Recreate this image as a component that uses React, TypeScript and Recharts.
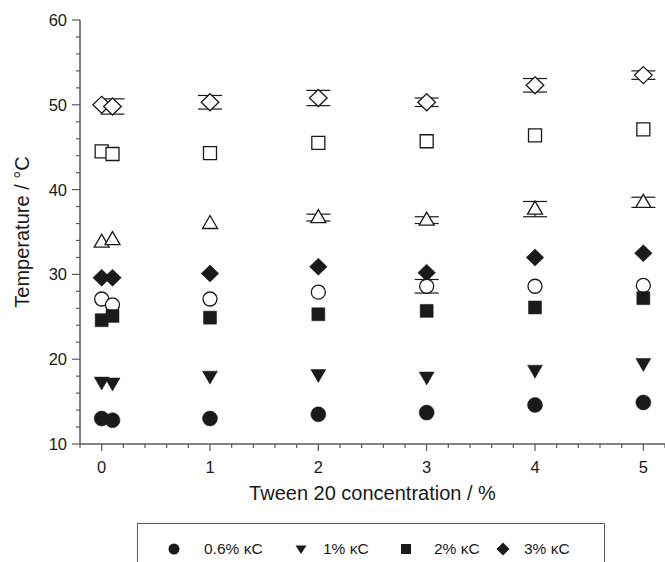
import { ErrorBar, Scatter, ScatterChart, XAxis, YAxis } from 'recharts'

const conc = [0, 0.1, 1, 2, 3, 4, 5]

// gelation (filled) and melting (open) temperatures, °C
const gel06 = [13.0, 12.8, 13.0, 13.5, 13.7, 14.6, 14.9]
const gel1 = [17.3, 17.2, 18.0, 18.2, 17.9, 18.7, 19.5]
const gel2 = [24.6, 25.1, 24.9, 25.3, 25.7, 26.1, 27.2]
const gel3 = [29.6, 29.6, 30.1, 30.9, 30.2, 32.0, 32.5]
const melt06 = [27.1, 26.4, 27.1, 27.9, 28.6, 28.6, 28.7]
const melt1 = [33.8, 34.1, 36.0, 36.7, 36.4, 37.7, 38.5]
const melt2 = [44.5, 44.2, 44.3, 45.5, 45.7, 46.4, 47.1]
const melt3 = [50.0, 49.8, 50.3, 50.8, 50.3, 52.3, 53.5]

const melt06Err = [null, null, null, null, 0.8, null, null]
const melt1Err = [null, null, null, 0.4, 0.4, 0.9, 0.6]
const melt3Err = [null, 0.9, 0.8, 0.9, 0.5, 0.8, 0.5]

const xTicks = [
  -0.2, 0, 0.2, 0.4, 0.6, 0.8, 1, 1.2, 1.4, 1.6, 1.8, 2, 2.2, 2.4, 2.6, 2.8, 3, 3.2, 3.4,
  3.6, 3.8, 4, 4.2, 4.4, 4.6, 4.8, 5, 5.2,
]
const yTicks = [10, 12, 14, 16, 18, 20, 22, 24, 26, 28, 30, 32, 34, 36, 38, 40, 42, 44, 46, 48, 50, 52, 54, 56, 58, 60]

const legendItems = [
  { kind: 'circle', label: '0.6% κC' },
  { kind: 'down', label: '1% κC' },
  { kind: 'square', label: '2% κC' },
  { kind: 'diamond', label: '3% κC' },
]

const FONT = '"Liberation Sans", Arial, sans-serif'
const AXIS = '#5a5a5a'
const INK = '#1a1a1a'

const rows = (ys: number[], errs?: (number | null)[]) =>
  ys.map((y, i) => ({ x: conc[i], y, err: errs ? errs[i] ?? undefined : undefined }))

function markPath(kind: string, cx: number, cy: number) {
  switch (kind) {
    case 'square':
      return `M${cx - 6.5},${cy - 6.5}h13v13h-13z`
    case 'diamond':
      return `M${cx},${cy - 8.5}L${cx + 8.8},${cy}L${cx},${cy + 8.5}L${cx - 8.8},${cy}z`
    case 'up':
      return `M${cx},${cy - 8}L${cx + 7.5},${cy + 5}L${cx - 7.5},${cy + 5}z`
    case 'down':
      return `M${cx - 7.5},${cy - 5}L${cx + 7.5},${cy - 5}L${cx},${cy + 8}z`
    default:
      return ''
  }
}

function Mark({ cx, cy, kind, open }: { cx: number; cy: number; kind: string; open?: boolean }) {
  const fill = open ? '#fff' : INK
  const sw = open ? 1.3 : 0.5
  if (kind === 'circle') {
    return <circle cx={cx} cy={cy} r={open ? 7 : 7.5} fill={fill} stroke={INK} strokeWidth={sw} />
  }
  return <path d={markPath(kind, cx, cy)} fill={fill} stroke={INK} strokeWidth={sw} strokeLinejoin="miter" />
}

const shapeOf = (kind: string, open?: boolean) => (p: any) => <Mark cx={p.cx} cy={p.cy} kind={kind} open={open} />

function YTick({ x, y, payload }: any) {
  const v = payload.value
  const major = v % 10 === 0
  return (
    <g>
      <line x1={x - (major ? 8 : 4)} x2={x} y1={y} y2={y} stroke={AXIS} strokeWidth={1.2} />
      {major && (
        <text x={x - 13} y={y} textAnchor="end" dominantBaseline="central" fontSize={16.5} fill={INK} fontFamily={FONT}>
          {v}
        </text>
      )}
    </g>
  )
}

function XTick({ x, y, payload }: any) {
  const v = payload.value
  const major = Math.abs(v - Math.round(v)) < 1e-6
  return (
    <g>
      <line x1={x} x2={x} y1={y} y2={y + (major ? 7 : 4)} stroke={AXIS} strokeWidth={1.2} />
      {major && (
        <text x={x} y={y + 23} textAnchor="middle" dominantBaseline="central" fontSize={16.5} fill={INK} fontFamily={FONT}>
          {Math.round(v)}
        </text>
      )}
    </g>
  )
}

function YLabel({ viewBox }: any) {
  const cy = viewBox.y + viewBox.height / 2
  return (
    <text
      x={22}
      y={cy}
      transform={`rotate(-90, 22, ${cy})`}
      textAnchor="middle"
      dominantBaseline="central"
      fontSize={20}
      fill={INK}
      fontFamily={FONT}
    >
      Temperature / °C
    </text>
  )
}

function XLabel({ viewBox }: any) {
  return (
    <text
      x={viewBox.x + viewBox.width / 2}
      y={viewBox.y + 49}
      textAnchor="middle"
      dominantBaseline="central"
      fontSize={20}
      fill={INK}
      fontFamily={FONT}
    >
      Tween 20 concentration / %
    </text>
  )
}

const legendPos = [
  { sym: 36, text: 66 },
  { sym: 163, text: 185 },
  { sym: 268, text: 296 },
  { sym: 365, text: 386 },
]

function KappaLegend() {
  return (
    <div
      style={{
        position: 'absolute',
        left: 137,
        top: 523,
        width: 466,
        height: 45,
        borderTop: `1px solid ${AXIS}`,
        borderLeft: `1px solid ${AXIS}`,
        borderRight: `1px solid ${AXIS}`,
        fontFamily: FONT,
        fontSize: 15.5,
        color: INK,
      }}
    >
      {legendItems.map((it, i) => (
        <div key={it.label}>
          <svg
            width={20}
            height={20}
            style={{ position: 'absolute', left: legendPos[i].sym - 10, top: 15 }}
          >
            {it.kind === 'circle' ? (
              <circle cx={10} cy={10} r={5.5} fill={INK} />
            ) : (
              <path
                d={
                  it.kind === 'down'
                    ? 'M4.5,6.5L15.5,6.5L10,15z'
                    : it.kind === 'square'
                      ? 'M5,5h10v10h-10z'
                      : 'M10,3.5L16.5,10L10,16.5L3.5,10z'
                }
                fill={INK}
              />
            )}
          </svg>
          <span style={{ position: 'absolute', left: legendPos[i].text, top: 16, lineHeight: '18px', whiteSpace: 'nowrap' }}>
            {it.label}
          </span>
        </div>
      ))}
    </div>
  )
}

export default function App() {
  return (
    <div style={{ position: 'absolute', left: 0, top: 0, width: 665, height: 562, overflow: 'hidden', background: '#fff' }}>
      <ScatterChart width={665} height={562} margin={{ top: 20, right: 0, bottom: 58, left: 0 }}>
        <XAxis
          type="number"
          dataKey="x"
          domain={[-0.2, 5.2]}
          ticks={xTicks}
          interval={0}
          tickSize={0}
          tickMargin={0}
          tickLine={false}
          tick={<XTick />}
          height={60}
          axisLine={{ stroke: AXIS, strokeWidth: 1.5 }}
          allowDataOverflow
          label={<XLabel />}
        />
        <YAxis
          type="number"
          dataKey="y"
          domain={[10, 60]}
          ticks={yTicks}
          interval={0}
          tickSize={0}
          tickMargin={0}
          tickLine={false}
          tick={<YTick />}
          width={80}
          axisLine={{ stroke: AXIS, strokeWidth: 1.5 }}
          allowDataOverflow
          label={<YLabel />}
        />
        <Scatter data={rows(melt3, melt3Err)} shape={shapeOf('diamond', true)} isAnimationActive={false}>
          <ErrorBar dataKey="err" direction="y" width={12} stroke={INK} strokeWidth={1.2} isAnimationActive={false} />
        </Scatter>
        <Scatter data={rows(melt2)} shape={shapeOf('square', true)} isAnimationActive={false} />
        <Scatter data={rows(melt1, melt1Err)} shape={shapeOf('up', true)} isAnimationActive={false}>
          <ErrorBar dataKey="err" direction="y" width={12} stroke={INK} strokeWidth={1.2} isAnimationActive={false} />
        </Scatter>
        <Scatter data={rows(gel3)} shape={shapeOf('diamond')} isAnimationActive={false} />
        <Scatter data={rows(melt06, melt06Err)} shape={shapeOf('circle', true)} isAnimationActive={false}>
          <ErrorBar dataKey="err" direction="y" width={12} stroke={INK} strokeWidth={1.2} isAnimationActive={false} />
        </Scatter>
        <Scatter data={rows(gel2)} shape={shapeOf('square')} isAnimationActive={false} />
        <Scatter data={rows(gel1)} shape={shapeOf('down')} isAnimationActive={false} />
        <Scatter data={rows(gel06)} shape={shapeOf('circle')} isAnimationActive={false} />
      </ScatterChart>
      <KappaLegend />
    </div>
  )
}
